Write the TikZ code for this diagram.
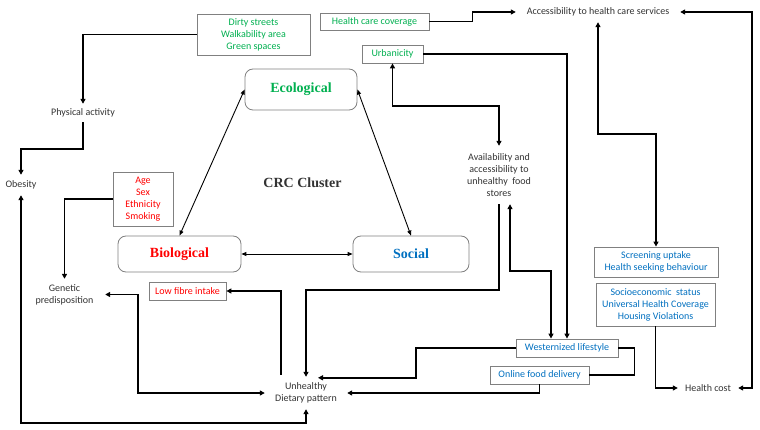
\documentclass[tikz,border=0pt]{standalone}
\usepackage{fontspec}
\setmainfont{Carlito}
\newfontfamily\bigserif{Liberation Serif}
\usetikzlibrary{arrows.meta,calc}
\definecolor{eg}{HTML}{00B050}
\definecolor{er}{HTML}{FF0000}
\definecolor{eb}{HTML}{0070C0}
\definecolor{tx}{HTML}{333333}
\definecolor{bd}{HTML}{808080}
\begin{document}
\begin{tikzpicture}[x=1pt,y=-1pt,
  >={Triangle[length=5pt,width=5pt]},
  small/.style={font=\fontsize{10}{12}\selectfont, align=center, inner sep=0pt},
  lbl/.style={small, text=tx},
  bx/.style={small, draw=bd, line width=0.8pt},
  big/.style={draw=bd, line width=0.8pt, rounded corners=8pt, font=\bigserif\bfseries\fontsize{14}{16}\selectfont},
  thk/.style={line width=1.8pt},
  thn/.style={line width=0.9pt, >={Triangle[length=5pt,width=4pt]}}]
\useasboundingbox (0,0) rectangle (760,430);
\fill[white] (0,0) rectangle (760,430);

% boxes
\node[bx, text=eg, minimum width=113, minimum height=41] (dirty) at (253.5,34.5) {Dirty streets\\Walkability area\\Green spaces};
\node[bx, text=eg, minimum width=109, minimum height=17] (hcc) at (374.5,21.5) {Health care coverage};
\node[bx, text=eg, minimum width=61, minimum height=18] (urb) at (392.5,54) {Urbanicity};
\node[bx, text=er, minimum width=60, minimum height=54] (age) at (143,199) {Age\\Sex\\Ethnicity\\Smoking};
\node[bx, text=er, minimum width=77, minimum height=18] (lowf) at (187.5,291) {Low fibre intake};
\node[bx, text=eb, minimum width=124, minimum height=30] (screen) at (656,262) {Screening uptake\\Health seeking behaviour};
\node[bx, text=eb, minimum width=119, minimum height=43] (socio) at (655.5,304.5) {Socioeconomic\ \ status\\Universal Health Coverage\\Housing Violations};
\node[bx, text=eb, minimum width=102, minimum height=18] (west) at (567,348) {Westernized lifestyle};
\node[bx, text=eb, minimum width=99, minimum height=18] (online) at (539.5,375) {Online food delivery};

% cluster boxes
\node[big, text=eg, minimum width=112, minimum height=41] (eco) at (301,89.5) {Ecological};
\node[big, text=er, minimum width=123, minimum height=36] (bio) at (179.5,254) {Biological};
\node[big, text=eb, minimum width=116, minimum height=36] (soc) at (411,254) {Social};
\node[font=\bigserif\bfseries\fontsize{14}{16}\selectfont, text=tx] (crc) at (302.5,183) {CRC Cluster};

% plain labels
\node[lbl, minimum width=164, minimum height=20] (acc) at (598,12) {Accessibility to health care services};
\node[lbl, minimum width=70, minimum height=18] (phys) at (83,113) {Physical activity};
\node[lbl, minimum width=36, minimum height=20] (obes) at (21,185) {Obesity};
\node[lbl, minimum width=80, minimum height=58] (avail) at (499,175) {Availability and\\accessibility to\\unhealthy\ \ food\\stores};
\node[lbl, minimum width=81, minimum height=31] (gen) at (64.5,294.5) {Genetic\\predisposition};
\node[lbl, minimum width=82, minimum height=32] (unh) at (306,393) {Unhealthy\\Dietary pattern};
\node[lbl, minimum width=60, minimum height=14] (hcost) at (708,388) {Health cost};

% thick connectors
\draw[thk,->] (dirty.west) -| (phys.north);
\draw[thk,->] (phys.south) -- ++(0,27) -| (obes.north);
\draw[thk,->] (age.west) -| (gen.north);
\draw[thk,->] (hcc.east) -- ++(43,0) |- (acc.west);
\draw[thk,->] (urb.east) -| (west.north);
\draw[thk,<->] (urb.south) -- ++(0,43) -| (avail.north);
\draw[thk,->] (avail.south) -- ++(0,86) -| (unh.north);
\draw[thk,<->] ($(avail.south)+(11,0)$) -- ++(0,67) -| ($(west.north)+(-16,0)$);
\draw[thk,<->] (acc.south) -- ++(0,112) -| (screen.north);
\draw[thk,<->] (acc.east) -- ++(72,0) |- (hcost.east);
\draw[thk,->] (socio.south) |- (hcost.west);
\draw[thk] (west.east) -- ++(16,0) |- (online.east);
\draw[thk,->] (online.south) |- (unh.east);
\coordinate (unhT) at ($(unh.north)+(12,1)$);
\draw[thk,->] (west.west) -- ++(-100,0) |- (unhT);
\draw[thk,->] ($(unh.north)+(-25,-2)$) |- (lowf.east);
\draw[thk,<->] (gen.east) -- ++(33,0) |- (unh.west);
\draw[thk,<->] (obes.south) -- ++(0,228) -| (unh.south);

% thin connectors
\draw[thn,<->] (bio.east) -- (soc.west);
\draw[thn,<->] (eco.west) -- (bio.north);
\draw[thn,<->] (eco.east) -- (soc.north);
\end{tikzpicture}
\end{document}
